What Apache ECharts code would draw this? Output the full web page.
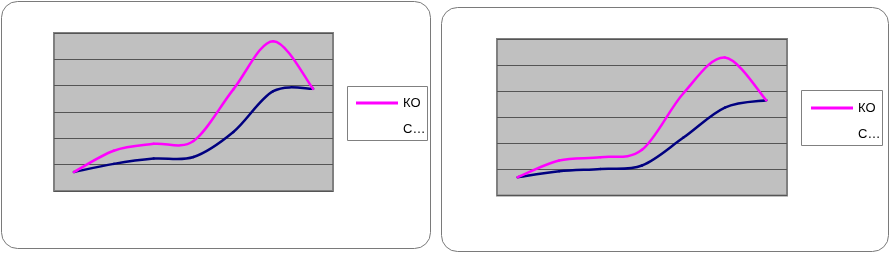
<!DOCTYPE html>
<html>
<head>
<meta charset="utf-8">
<style>
html,body{margin:0;padding:0;background:#fff;}
#c{width:890px;height:253px;}
</style>
<script src="https://cdn.jsdelivr.net/npm/echarts@6/dist/echarts.min.js"></script>
</head>
<body>
<div id="c"></div>
<script>
var categories = ['1', '2', '3', '4', '5', '6', '7'];
var seriesNames = ['КО', 'С…'];
var leftKO = [0.72, 1.53, 1.79, 1.90, 3.86, 5.69, 3.88];
var leftC  = [0.72, 1.03, 1.23, 1.29, 2.24, 3.79, 3.88];
var rightKO = [0.70, 1.34, 1.47, 1.75, 3.92, 5.29, 3.65];
var rightC  = [0.70, 0.93, 1.02, 1.15, 2.22, 3.37, 3.65];
var yMin = 0, yMax = 6, yStep = 1;

var chart = echarts.init(document.getElementById('c'), null, {renderer: 'canvas'});
var font = 'Liberation Sans, Arial, sans-serif';

function xAxis(i) {
  return {type: 'category', gridIndex: i, data: categories, boundaryGap: true,
    axisLine: {show: false}, axisTick: {show: false}, axisLabel: {show: false}, splitLine: {show: false}};
}
function yAxis(i) {
  return {type: 'value', gridIndex: i, min: yMin, max: yMax, interval: yStep,
    axisLine: {show: false}, axisTick: {show: false}, axisLabel: {show: false},
    splitLine: {show: true, lineStyle: {color: '#555555', width: 1}}};
}
// Smooth curve (Catmull-Rom style, like spreadsheet smoothing) through the data points,
// positioned with the axes' own coordinate system via api.coord.
function curve(name, values, gi, color, z) {
  var n = values.length;
  return {type: 'custom', name: name, xAxisIndex: gi, yAxisIndex: gi, z: z,
    data: values.map(function (v, i) { return [i, v]; }),
    encode: {x: 0, y: 1},
    itemStyle: {color: color},
    renderItem: function (params, api) {
      var i = params.dataIndex;
      if (i >= n - 1) return null;
      function P(k) { k = Math.max(0, Math.min(n - 1, k)); return api.coord([k, values[k]]); }
      var p0 = P(i - 1), p1 = P(i), p2 = P(i + 1), p3 = P(i + 2);
      var t = 1 / 6;
      return {type: 'bezierCurve',
        shape: {x1: p1[0], y1: p1[1], x2: p2[0], y2: p2[1],
          cpx1: p1[0] + (p2[0] - p0[0]) * t, cpy1: p1[1] + (p2[1] - p0[1]) * t,
          cpx2: p2[0] - (p3[0] - p1[0]) * t, cpy2: p2[1] - (p3[1] - p1[1]) * t},
        style: {stroke: color, lineWidth: 2.5, fill: null, lineCap: 'round'}};
    }
  };
}
function legend(left, top) {
  return {left: left, top: top, orient: 'vertical',
    data: [{name: seriesNames[0], icon: 'rect', itemStyle: {color: '#ff00ff'}},
           {name: seriesNames[1], icon: 'rect', itemStyle: {color: '#ffffff', opacity: 0}}],
    padding: [10, 0, 0, 9], itemWidth: 42, itemHeight: 3, itemGap: 12,
    textStyle: {fontSize: 13, fontFamily: font, color: '#000', lineHeight: 14}, selectedMode: false};
}

chart.setOption({
  animation: false,
  backgroundColor: '#fff',
  graphic: [
    {type: 'rect', z: -10, shape: {x: 1.5, y: 1.5, width: 429, height: 247, r: 16},
      style: {fill: '#fff', stroke: '#7a7a7a', lineWidth: 1}},
    {type: 'rect', z: -10, shape: {x: 441.5, y: 7.5, width: 447, height: 244, r: 16},
      style: {fill: '#fff', stroke: '#7a7a7a', lineWidth: 1}},
    {type: 'rect', z: -5, shape: {x: 347.5, y: 86.5, width: 80, height: 54},
      style: {fill: '#fff', stroke: '#808080', lineWidth: 1}},
    {type: 'rect', z: -5, shape: {x: 801.5, y: 90.5, width: 81, height: 55},
      style: {fill: '#fff', stroke: '#808080', lineWidth: 1}}
  ],
  grid: [
    {left: 54, top: 33, width: 279, height: 158, show: true, backgroundColor: '#c0c0c0', borderColor: '#808080', borderWidth: 2},
    {left: 497, top: 39, width: 290, height: 156.5, show: true, backgroundColor: '#c0c0c0', borderColor: '#808080', borderWidth: 2}
  ],
  xAxis: [xAxis(0), xAxis(1)],
  yAxis: [yAxis(0), yAxis(1)],
  legend: [legend(347, 86), legend(802, 91)],
  series: [
    curve(seriesNames[0], leftKO, 0, '#ff00ff', 3),
    curve(seriesNames[1], leftC, 0, '#000080', 2),
    curve(seriesNames[0], rightKO, 1, '#ff00ff', 3),
    curve(seriesNames[1], rightC, 1, '#000080', 2)
  ]
});
</script>
</body>
</html>
